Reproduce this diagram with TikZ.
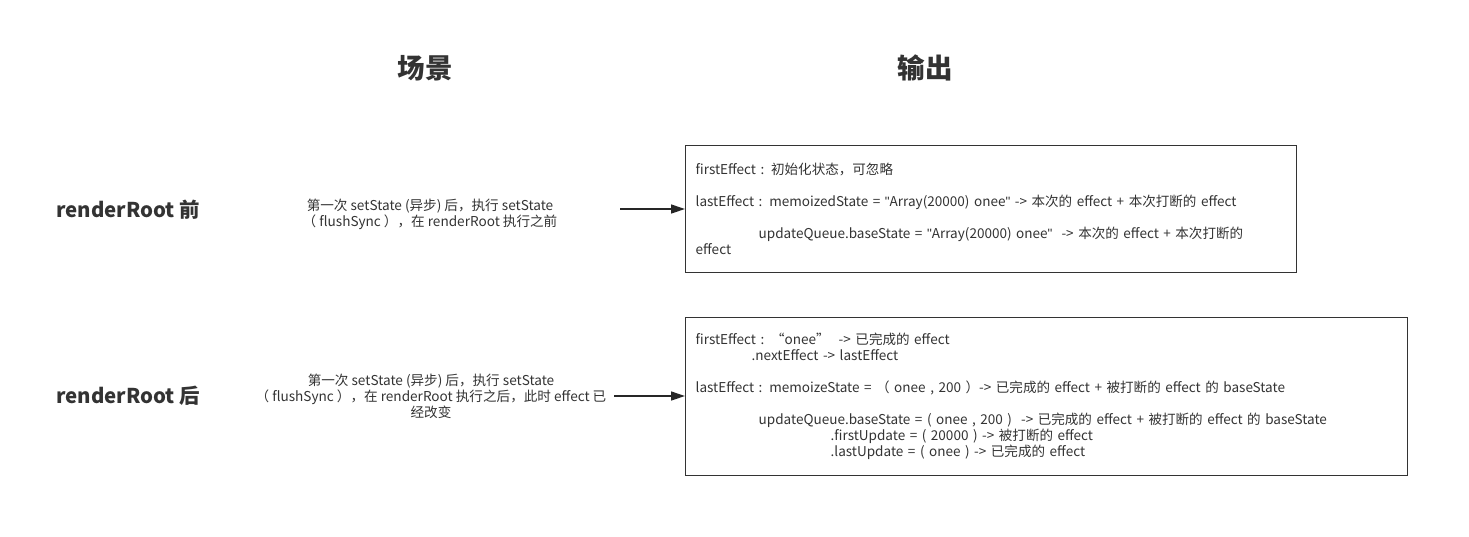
\documentclass[tikz,border=0pt]{standalone}
\usepackage{fontspec}
\setmainfont{Noto Sans CJK SC}[Ligatures=ResetAll]
\newfontfamily\quotefont{Liberation Sans}
\newcommand\dq{{\quotefont\symbol{34}}}
\usetikzlibrary{arrows.meta, positioning}

\begin{document}
\begin{tikzpicture}[x=1pt, y=-1pt,
  title/.style={font=\fontsize{27.5}{30}\selectfont\bfseries, text=black!80},
  stage/.style={font=\fontsize{20.4}{22}\selectfont\bfseries, text=black!80},
  scene/.style={align=center, font=\fontsize{13.6}{16}\selectfont, text=black!80},
  outbox/.style={draw=black!80, line width=1.3pt, align=left, anchor=north west,
                 inner xsep=10pt, inner ysep=0pt, text=black!80,
                 font=\fontsize{13.55}{16}\selectfont},
  arr/.style={-{Triangle[length=14pt, width=9pt]}, line width=1.3pt, draw=black!85}]

  \useasboundingbox (0,0) rectangle (1469,536);

  % column headers
  \node[title] (hscene) at (425,68) {场景};
  \node[title] (hout) at (925,68) {输出};

  % row labels
  \node[stage] (before) at (128,210) {renderRoot 前};
  \node[stage] (after) at (128,396) {renderRoot 后};

  % scenes
  \node[scene] (sc1) at (430,214) {第一次 setState (异步) 后，执行 setState\\（ flushSync ），在 renderRoot 执行之前};
  \node[scene] (sc2) at (431,396) {第一次 setState (异步) 后，执行 setState\\（ flushSync ），在 renderRoot 执行之后，此时 effect 已\\经改变};

  % outputs
  \node[outbox, text width=591pt, minimum height=127pt] (out1) at (685,145)
    {firstEffect : 初始化状态，可忽略\\[16pt]
     lastEffect : memoizedState = \dq Array(20000) onee\dq{} -> 本次的 effect + 本次打断的 effect\\[16pt]
     \hspace*{63pt}updateQueue.baseState = \dq Array(20000) onee\dq~ -> 本次的 effect + 本次打断的\\
     effect};
  \node[outbox, text width=702pt, minimum height=158pt] (out2) at (685,317)
    {firstEffect : “onee” ~-> 已完成的 effect\\
     \hspace*{56pt}.nextEffect -> lastEffect\\[16pt]
     lastEffect : memoizeState = （ onee , 200 ）-> 已完成的 effect + 被打断的 effect 的 baseState\\[16pt]
     \hspace*{63pt}updateQueue.baseState = ( onee , 200 )~ -> 已完成的 effect + 被打断的 effect 的 baseState\\
     \hspace*{135pt}.firstUpdate = ( 20000 ) -> 被打断的 effect\\
     \hspace*{135pt}.lastUpdate = ( onee ) -> 已完成的 effect};

  % connectors
  \coordinate (a1) at (620,209);
  \coordinate (a2) at (614,396);
  \draw[arr] (a1) -- (a1 -| out1.west);
  \draw[arr] (a2) -- (a2 -| out2.west);
\end{tikzpicture}
\end{document}
